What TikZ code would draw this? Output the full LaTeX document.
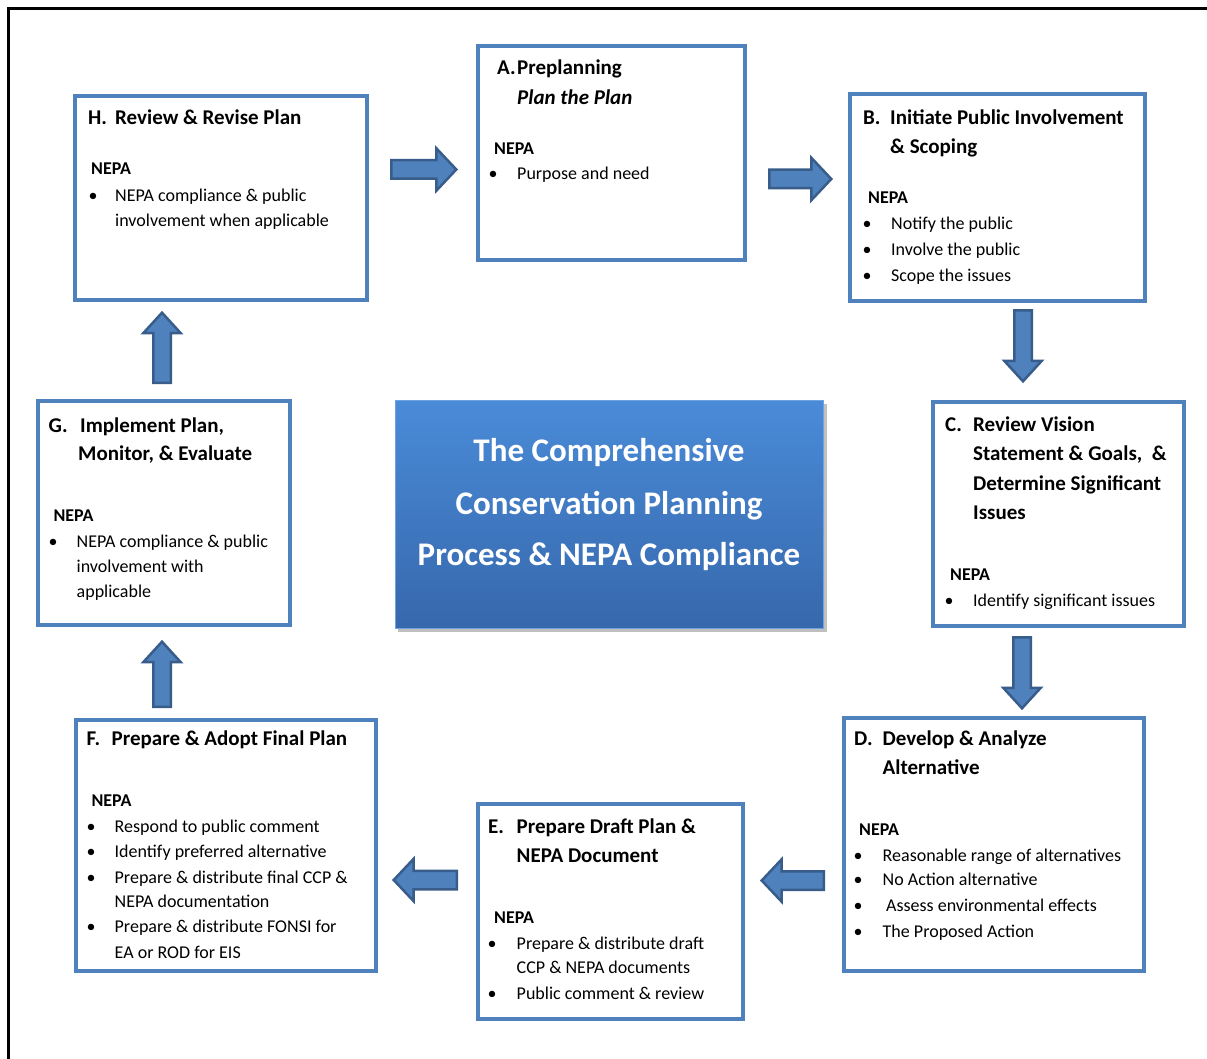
\documentclass[tikz,border=0pt]{standalone}
\usepackage{fontspec}
\setmainfont{Carlito}
\usetikzlibrary{calc}
\definecolor{boxblue}{HTML}{4F81BD}
\definecolor{arrdark}{HTML}{385D8A}
\definecolor{ctop}{HTML}{4A8BD8}
\definecolor{cbot}{HTML}{3668AC}
\newcommand\blockarrow[5]{%
  \coordinate (#1-hb) at ($(#2)!#5pt!(#1)$);
  \filldraw[barrow] ($(#1)!#3pt!90:(#2)$) -- ($(#1-hb)!#3pt!90:(#2)$) -- ($(#1-hb)!#4pt!90:(#2)$) -- (#2)
     -- ($(#1-hb)!#4pt!-90:(#2)$) -- ($(#1-hb)!#3pt!-90:(#2)$) -- ($(#1)!#3pt!-90:(#2)$) -- cycle;}
\begin{document}
\begin{tikzpicture}[x=1pt,y=-1pt,
  stepbox/.style={draw=boxblue, line width=4pt, fill=white, rectangle, inner sep=0pt},
  ttl/.style={anchor=base west, inner sep=0pt, font=\bfseries\fontsize{21}{25}\selectfont},
  nep/.style={anchor=base west, inner sep=0pt, font=\bfseries\fontsize{18}{22}\selectfont},
  bod/.style={anchor=base west, inner sep=0pt, font=\fontsize{18}{22}\selectfont},
  ctr/.style={anchor=base, inner sep=0pt, text=white, font=\bfseries\fontsize{33}{40}\selectfont},
  barrow/.style={fill=boxblue, draw=arrdark, line width=2.5pt, line join=miter}
]
\useasboundingbox (0,0) rectangle (1207,1059);
\fill[white] (0,0) rectangle (1207,1059);
% outer frame
\draw[line width=2.5pt] (8.5,1059) -- (8.5,8.3) -- (1207,8.3);

% boxes
\node[stepbox, minimum width=291.5pt, minimum height=204pt] (bH) at (220.75,198) {};
\node[stepbox, minimum width=267pt, minimum height=214pt] (bA) at (611,153.5) {};
\node[stepbox, minimum width=294.5pt, minimum height=206pt] (bB) at (997.25,197.5) {};
\node[stepbox, minimum width=251pt, minimum height=224pt] (bC) at (1058,513.5) {};
\node[stepbox, minimum width=300pt, minimum height=253pt] (bD) at (993.5,844) {};
\node[stepbox, minimum width=265pt, minimum height=215pt] (bE) at (610,911) {};
\node[stepbox, minimum width=300pt, minimum height=251pt] (bF) at (225.5,845) {};
\node[stepbox, minimum width=252pt, minimum height=224pt] (bG) at (163.5,512.5) {};

% centre box
\fill[black, opacity=0.25] (398,404) rectangle (827,632);
\node[rectangle, inner sep=0pt, minimum width=428pt, minimum height=228pt, top color=ctop, bottom color=cbot, draw=ctop!80!white, line width=1pt] (bCtr) at (609,514) {};
\node[ctr] (c1) at (609,461.5) {The Comprehensive};
\node[ctr] (c2) at (609,514) {Conservation Planning};
\node[ctr] (c3) at (609,565.7) {Process \& NEPA Compliance};

% H
\node[ttl] (tH1) at (88,125) {\makebox[27pt][l]{H.}Review \& Revise Plan};
\node[nep] (tH2) at (91,175) {NEPA};
\node[bod] (tH3) at (88.5,202) {\makebox[26.5pt][l]{\textbullet}NEPA compliance \& public};
\node[bod] (tH4) at (88.5,227) {\hspace*{26.5pt}involvement when applicable};

% A
\node[ttl] (tA1) at (497,75) {\makebox[20pt][l]{A.}Preplanning};
\node[ttl] (tA2) at (517,105) {\itshape Plan the Plan};
\node[nep] (tA3) at (494,155) {NEPA};
\node[bod] (tA4) at (488.5,180) {\makebox[28.5pt][l]{\textbullet}Purpose and need};

% B
\node[ttl] (tB1) at (863,125) {\makebox[27pt][l]{B.}Initiate Public Involvement};
\node[ttl] (tB2) at (890,154) {\& Scoping};
\node[nep] (tB3) at (868,204) {NEPA};
\node[bod] (tB4) at (862.5,230) {\makebox[28.5pt][l]{\textbullet}Notify the public};
\node[bod] (tB5) at (862.5,256) {\makebox[28.5pt][l]{\textbullet}Involve the public};
\node[bod] (tB6) at (862.5,282) {\makebox[28.5pt][l]{\textbullet}Scope the issues};

% C
\node[ttl] (tC1) at (945,431) {\makebox[28pt][l]{C.}Review Vision};
\node[ttl] (tC2) at (973,460) {Statement \& Goals,\ \ \&};
\node[ttl] (tC3) at (973,490) {Determine Significant};
\node[ttl] (tC4) at (973,519) {Issues};
\node[nep] (tC5) at (950,580) {NEPA};
\node[bod] (tC6) at (944.5,606) {\makebox[28.5pt][l]{\textbullet}Identify significant issues};

% D
\node[ttl] (tD1) at (854,745) {\makebox[28.5pt][l]{D.}Develop \& Analyze};
\node[ttl] (tD2) at (882.5,774) {Alternative};
\node[nep] (tD3) at (859,835) {NEPA};
\node[bod] (tD4) at (853.5,861) {\makebox[29pt][l]{\textbullet}Reasonable range of alternatives};
\node[bod] (tD5) at (853.5,885) {\makebox[29pt][l]{\textbullet}No Action alternative};
\node[bod] (tD6) at (853.5,911) {\makebox[32.5pt][l]{\textbullet}Assess environmental effects};
\node[bod] (tD7) at (853.5,937) {\makebox[29pt][l]{\textbullet}The Proposed Action};

% E
\node[ttl] (tE1) at (488,833) {\makebox[28.5pt][l]{E.}Prepare Draft Plan \&};
\node[ttl] (tE2) at (516.5,862) {NEPA Document};
\node[nep] (tE3) at (494,923) {NEPA};
\node[bod] (tE4) at (487.5,949) {\makebox[29pt][l]{\textbullet}Prepare \& distribute draft};
\node[bod] (tE5) at (487.5,973) {\hspace*{29pt}CCP \& NEPA documents};
\node[bod] (tE6) at (487.5,999) {\makebox[29pt][l]{\textbullet}Public comment \& review};

% F
\node[ttl] (tF1) at (86.5,745) {\makebox[25pt][l]{F.}Prepare \& Adopt Final Plan};
\node[nep] (tF2) at (91.3,806) {NEPA};
\node[bod] (tF3) at (86.5,832) {\makebox[28pt][l]{\textbullet}Respond to public comment};
\node[bod] (tF4) at (86.5,857) {\makebox[28pt][l]{\textbullet}Identify preferred alternative};
\node[bod] (tF5) at (86.5,883) {\makebox[28pt][l]{\textbullet}Prepare \& distribute final CCP \&};
\node[bod] (tF6) at (86.5,907) {\hspace*{28pt}NEPA documentation};
\node[bod] (tF7) at (86.5,932) {\makebox[28pt][l]{\textbullet}Prepare \& distribute FONSI for};
\node[bod] (tF8) at (86.5,958) {\hspace*{28pt}EA or ROD for EIS};

% G
\node[ttl] (tG1) at (48.5,432) {\makebox[31.5pt][l]{G.}Implement Plan,};
\node[ttl] (tG2) at (78,460) {Monitor, \& Evaluate};
\node[nep] (tG3) at (53.3,521) {NEPA};
\node[bod] (tG4) at (48.5,547) {\makebox[28pt][l]{\textbullet}NEPA compliance \& public};
\node[bod] (tG5) at (48.5,572) {\hspace*{28pt}involvement with};
\node[bod] (tG6) at (48.5,597) {\hspace*{28pt}applicable};

% arrows
\coordinate (aHA) at (391.25,169.5);  \coordinate (aHAe) at (456.3,169.5);
\coordinate (aAB) at (769.25,179);    \coordinate (aABe) at (831.3,179);
\coordinate (aBC) at (1023,310.25);   \coordinate (aBCe) at (1023,381.3);
\coordinate (aCD) at (1022,637.25);   \coordinate (aCDe) at (1022,708.3);
\coordinate (aDE) at (823.75,880.5);  \coordinate (aDEe) at (761.7,880.5);
\coordinate (aEF) at (456.75,880);    \coordinate (aEFe) at (393.7,880);
\coordinate (aFG) at (162,706.75);    \coordinate (aFGe) at (162,641.7);
\coordinate (aGH) at (162,382.75);    \coordinate (aGHe) at (162,312.7);
\blockarrow{aHA}{aHAe}{9.25}{21.25}{20}
\blockarrow{aAB}{aABe}{9.25}{21.25}{20}
\blockarrow{aDE}{aDEe}{9.25}{21.25}{20}
\blockarrow{aEF}{aEFe}{9.25}{21.25}{20}
\blockarrow{aBC}{aBCe}{8.75}{18.75}{20.5}
\blockarrow{aCD}{aCDe}{8.75}{18.75}{20.5}
\blockarrow{aFG}{aFGe}{8.75}{18.75}{20.5}
\blockarrow{aGH}{aGHe}{8.75}{18.75}{20.5}
\end{tikzpicture}
\end{document}
